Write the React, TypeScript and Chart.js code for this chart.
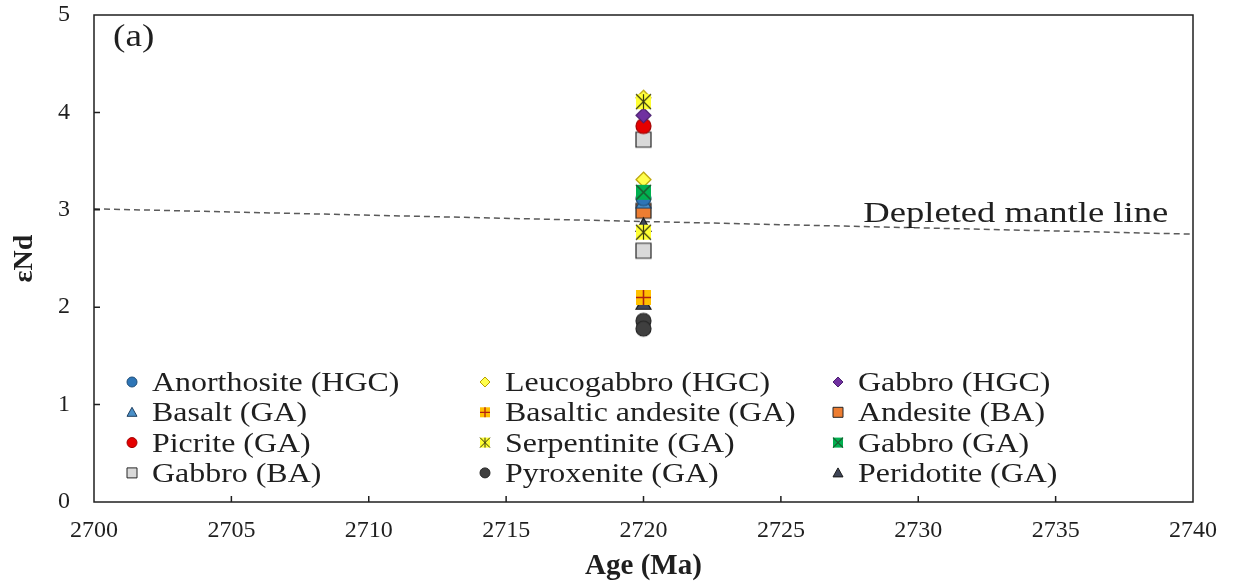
import { useEffect, useRef } from 'react';
import { Chart, registerables } from 'chart.js';

Chart.register(...registerables);

// ---- data ----
const SAMPLE_AGE = 2720;

const seriesNames = [
  'Anorthosite (HGC)',
  'Leucogabbro (HGC)',
  'Gabbro (HGC)',
  'Basalt (GA)',
  'Basaltic andesite (GA)',
  'Andesite (BA)',
  'Picrite (GA)',
  'Serpentinite (GA)',
  'Gabbro (GA)',
  'Gabbro (BA)',
  'Pyroxenite (GA)',
  'Peridotite (GA)',
];

const anorthositeHGC = [3.12];
const leucogabbroHGC = [4.15, 3.31];
const gabbroHGC = [3.97];
const basaltGA = [3.08];
const basalticAndesiteGA = [2.1];
const andesiteBA = [2.99];
const picriteGA = [3.86];
const serpentiniteGA = [4.11, 2.77];
const gabbroGA = [3.18];
const gabbroBA = [3.72, 2.58];
const pyroxeniteGA = [1.86, 1.78];
const peridotiteGA = [2.84, 2.04];

const seriesValues = [
  anorthositeHGC,
  leucogabbroHGC,
  gabbroHGC,
  basaltGA,
  basalticAndesiteGA,
  andesiteBA,
  picriteGA,
  serpentiniteGA,
  gabbroGA,
  gabbroBA,
  pyroxeniteGA,
  peridotiteGA,
];

const xRange = [2700, 2740];
const xStep = 5;
const yRange = [0, 5];
const yStep = 1;

const mantleLineAge = [2700, 2740];
const mantleLineEpsNd = [3.01, 2.75];
const mantleLabel = 'Depleted mantle line';
const mantleLabelAt = [2728, 2.875];
const panelLabel = '(a)';

// ---- styling ----
const FONT = '"Liberation Serif", "Times New Roman", serif';
const INK = '#1f1f1f';

type MarkerKind = 'circle' | 'diamond' | 'triangle' | 'square' | 'plus' | 'cross' | 'star';
interface MarkerStyle {
  kind: MarkerKind;
  fill: string;
  stroke: string;
}

const markerStyles: MarkerStyle[] = [
  { kind: 'circle', fill: '#2E75B6', stroke: '#1F4E79' },
  { kind: 'diamond', fill: '#FFFF4D', stroke: '#B8A000' },
  { kind: 'diamond', fill: '#7030A0', stroke: '#4B2070' },
  { kind: 'triangle', fill: '#4A90C8', stroke: '#1F3F60' },
  { kind: 'plus', fill: '#FFC000', stroke: '#B02010' },
  { kind: 'square', fill: '#ED7D31', stroke: '#262626' },
  { kind: 'circle', fill: '#E50000', stroke: '#A00000' },
  { kind: 'star', fill: '#FFFF33', stroke: '#3A3A10' },
  { kind: 'cross', fill: '#00B050', stroke: '#1A5C30' },
  { kind: 'square', fill: '#D9D9D9', stroke: '#262626' },
  { kind: 'circle', fill: '#3F3F3F', stroke: '#262626' },
  { kind: 'triangle', fill: '#3E4556', stroke: '#1A1A1A' },
];

// lower value is drawn on top
const drawOrder = [8, 3, 6, 9, 4, 10, 7, 1, 2, 11, 12, 5];

function drawMarker(
  ctx: CanvasRenderingContext2D,
  m: MarkerStyle,
  cx: number,
  cy: number,
  s: number,
  lw: number
) {
  const h = s / 2;
  ctx.save();
  ctx.lineWidth = lw;
  ctx.fillStyle = m.fill;
  ctx.strokeStyle = m.stroke;
  ctx.beginPath();
  switch (m.kind) {
    case 'circle':
      ctx.arc(cx, cy, h, 0, Math.PI * 2);
      ctx.fill();
      ctx.stroke();
      break;
    case 'square':
      ctx.rect(cx - h, cy - h, s, s);
      ctx.fill();
      ctx.stroke();
      break;
    case 'diamond':
      ctx.moveTo(cx, cy - h);
      ctx.lineTo(cx + h, cy);
      ctx.lineTo(cx, cy + h);
      ctx.lineTo(cx - h, cy);
      ctx.closePath();
      ctx.fill();
      ctx.stroke();
      break;
    case 'triangle':
      ctx.moveTo(cx, cy - h);
      ctx.lineTo(cx + h, cy + h * 0.8);
      ctx.lineTo(cx - h, cy + h * 0.8);
      ctx.closePath();
      ctx.fill();
      ctx.stroke();
      break;
    case 'plus':
      ctx.fillRect(cx - h, cy - h, s, s);
      ctx.moveTo(cx, cy - h);
      ctx.lineTo(cx, cy + h);
      ctx.moveTo(cx - h, cy);
      ctx.lineTo(cx + h, cy);
      ctx.lineWidth = lw * 1.3;
      ctx.stroke();
      break;
    case 'cross':
      ctx.fillRect(cx - h, cy - h, s, s);
      ctx.moveTo(cx - h, cy - h);
      ctx.lineTo(cx + h, cy + h);
      ctx.moveTo(cx + h, cy - h);
      ctx.lineTo(cx - h, cy + h);
      ctx.lineWidth = lw * 1.3;
      ctx.stroke();
      break;
    case 'star':
      ctx.fillRect(cx - h, cy - h, s, s);
      ctx.moveTo(cx - h, cy - h);
      ctx.lineTo(cx + h, cy + h);
      ctx.moveTo(cx + h, cy - h);
      ctx.lineTo(cx - h, cy + h);
      ctx.moveTo(cx, cy - h);
      ctx.lineTo(cx, cy + h);
      ctx.stroke();
      break;
  }
  ctx.restore();
}

function markerImage(m: MarkerStyle, s: number): HTMLCanvasElement {
  const c = document.createElement('canvas');
  const dim = s + 4;
  c.width = dim;
  c.height = dim;
  const ctx = c.getContext('2d')!;
  drawMarker(ctx, m, dim / 2, dim / 2, s, 1.2);
  return c;
}

function stretchedText(
  ctx: CanvasRenderingContext2D,
  text: string,
  x: number,
  y: number,
  size: number,
  stretch: number
) {
  ctx.save();
  ctx.font = `${size}px ${FONT}`;
  ctx.fillStyle = INK;
  ctx.textAlign = 'left';
  ctx.textBaseline = 'alphabetic';
  ctx.translate(x, y);
  ctx.scale(stretch, 1);
  ctx.fillText(text, 0, 0);
  ctx.restore();
}

// frame, inward tick marks, legend and text labels
const decorations = {
  id: 'decorations',
  afterDatasetsDraw(chart: any) {
    const { ctx, chartArea: a, scales } = chart;
    const xs = scales.x;
    const ys = scales.y;

    ctx.save();
    ctx.strokeStyle = INK;
    ctx.lineWidth = 1.5;
    ctx.strokeRect(a.left, a.top, a.right - a.left, a.bottom - a.top);
    ctx.beginPath();
    for (let v = xRange[0] + xStep; v < xRange[1]; v += xStep) {
      const px = xs.getPixelForValue(v);
      ctx.moveTo(px, a.bottom);
      ctx.lineTo(px, a.bottom - 6);
    }
    for (let v = yRange[0] + yStep; v < yRange[1]; v += yStep) {
      const py = ys.getPixelForValue(v);
      ctx.moveTo(a.left, py);
      ctx.lineTo(a.left + 6, py);
    }
    ctx.stroke();
    ctx.restore();

    // panel label
    stretchedText(ctx, panelLabel, a.left + 19, a.top + 31, 31, 1.2);

    // mantle line label
    stretchedText(
      ctx,
      mantleLabel,
      xs.getPixelForValue(mantleLabelAt[0]),
      ys.getPixelForValue(mantleLabelAt[1]),
      30,
      1.22
    );

    // legend: 3 columns x 4 rows
    const colX = [38, 391, 744];
    const rowY0 = 367;
    const rowGap = 30.3;
    seriesNames.forEach((name, i) => {
      const col = i % 3;
      const row = Math.floor(i / 3);
      const mx = a.left + colX[col];
      const my = a.top + rowY0 + row * rowGap;
      drawMarker(ctx, markerStyles[i], mx, my, 10, 1);
      stretchedText(ctx, name, mx + 20, my + 9, 28, 1.14);
    });
  },
};

export default function App() {
  const ref = useRef<HTMLCanvasElement | null>(null);

  useEffect(() => {
    if (!ref.current) return;

    const pointSets: any[] = seriesNames.map((name, i) => ({
      type: 'scatter',
      label: name,
      data: seriesValues[i].map((v) => ({ x: SAMPLE_AGE, y: v })),
      pointStyle: markerImage(markerStyles[i], 15),
      pointRadius: 8,
      pointHoverRadius: 8,
      order: drawOrder[i],
    }));

    const mantleSet: any = {
      type: 'line',
      label: mantleLabel,
      data: mantleLineAge.map((x, i) => ({ x, y: mantleLineEpsNd[i] })),
      borderColor: '#5a5a5a',
      borderWidth: 1.5,
      borderDash: [6, 4],
      pointRadius: 0,
      fill: false,
      tension: 0,
      order: 100,
    };

    const tickFont = { family: FONT, size: 24 };

    const chart = new Chart(ref.current, {
      type: 'scatter',
      data: { datasets: [...pointSets, mantleSet] },
      options: {
        responsive: false,
        animation: false,
        events: [],
        layout: { padding: { left: 0, top: 15, right: 45, bottom: 0 } },
        plugins: {
          legend: { display: false },
          tooltip: { enabled: false },
        },
        scales: {
          x: {
            type: 'linear',
            min: xRange[0],
            max: xRange[1],
            afterFit: (s: any) => {
              s.height = 85;
              s.paddingLeft = 0;
              s.paddingRight = 0;
            },
            ticks: {
              stepSize: xStep,
              autoSkip: false,
              maxRotation: 0,
              padding: 14,
              font: tickFont,
              color: INK,
              callback: (v: any) => String(v),
            },
            grid: { display: false, drawTicks: false, tickLength: 0 },
            border: { display: false },
            title: {
              display: true,
              text: 'Age (Ma)',
              color: INK,
              font: { family: FONT, size: 29, weight: 'bold' },
              padding: { top: 0, bottom: 3 },
            },
          },
          y: {
            type: 'linear',
            min: yRange[0],
            max: yRange[1],
            afterFit: (s: any) => {
              s.width = 94;
              s.paddingTop = 0;
              s.paddingBottom = 0;
            },
            ticks: {
              stepSize: yStep,
              padding: 24,
              font: tickFont,
              color: INK,
              callback: (v: any) => String(v),
            },
            grid: { display: false, drawTicks: false, tickLength: 0 },
            border: { display: false },
            title: {
              display: true,
              text: 'εNd',
              color: INK,
              font: { family: FONT, size: 28, weight: 'bold' },
              padding: { top: 8, bottom: 0 },
            },
          },
        },
      } as any,
      plugins: [decorations],
    });

    return () => chart.destroy();
  }, []);

  return (
    <div style={{ position: 'absolute', left: 0, top: 0, width: 1238, height: 587, background: '#fff' }}>
      <canvas ref={ref} width={1238} height={587} style={{ display: 'block' }} />
    </div>
  );
}
